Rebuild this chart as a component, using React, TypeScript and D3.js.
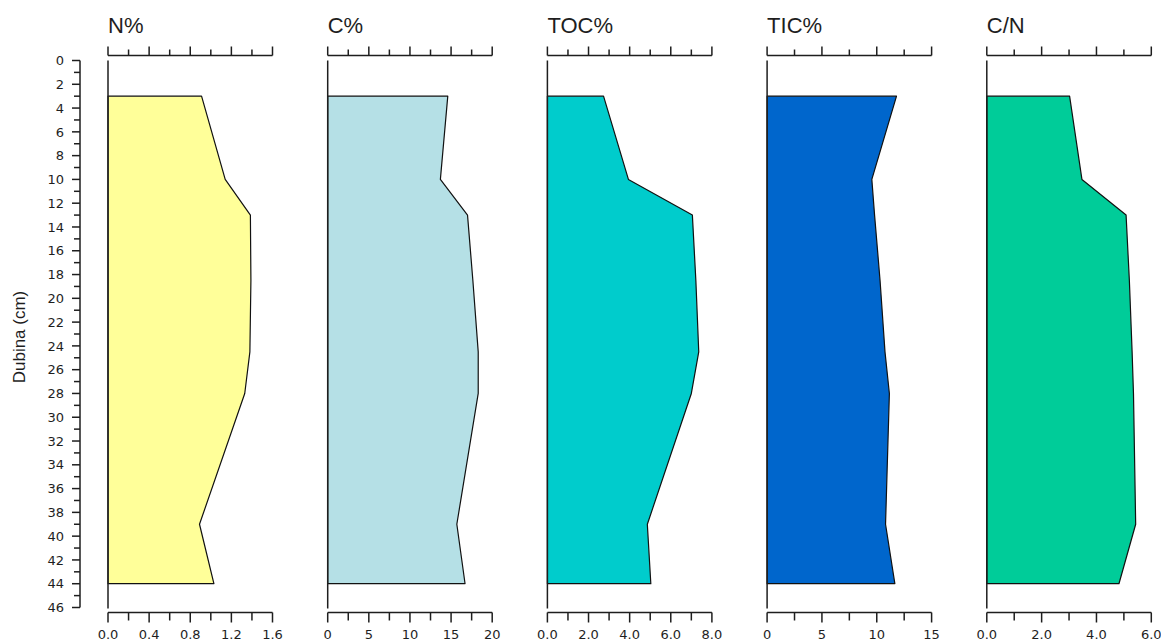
import React from "react";
import * as d3 from "d3";

const depths = [3, 10, 13, 18.5, 24.5, 28, 39, 44];
const nPct = [0.91, 1.14, 1.385, 1.39, 1.38, 1.33, 0.89, 1.03];
const cPct = [14.6, 13.7, 17.0, 17.65, 18.3, 18.3, 15.7, 16.7];
const tocPct = [2.73, 3.94, 7.05, 7.22, 7.36, 7.0, 4.86, 5.03];
const ticPct = [11.8, 9.55, 9.8, 10.3, 10.75, 11.15, 10.8, 11.65];
const cnRatio = [3.02, 3.47, 5.08, 5.2, 5.3, 5.35, 5.43, 4.82];

const titles = ["N%", "C%", "TOC%", "TIC%", "C/N"];
const maxima = [1.6, 20, 8, 15, 6];
const majorSteps = [0.4, 5, 2, 5, 2];
const tickFormats = [".1f", "d", ".1f", "d", ".1f"];
const fills = ["#FFFF99", "#B5E0E6", "#00CCCC", "#0066CC", "#00CC99"];
const seriesList = [nPct, cPct, tocPct, ticPct, cnRatio];

const depthMax = 46;
const yTicks = d3.range(0, depthMax + 1, 1);

const W = 1161;
const H = 642;
const panelX0 = 108;
const panelStep = 219.7;
const panelW = 164.5;
const yTop = 60.5;
const yBot = 607.5;
const topAxisY = 55.5;
const botAxisY = 612.5;
const yAxisX = 80;

const tickFont = "'DejaVu Sans', Verdana, sans-serif";
const titleFont = "'Liberation Sans', Arial, sans-serif";
const ink = "#1e1e1e";

export default function App() {
  const y = d3.scaleLinear().domain([0, depthMax]).range([yTop, yBot]);

  return (
    <svg
      width={W}
      height={H}
      style={{ position: "absolute", left: 0, top: 0, background: "#fff" }}
    >
      {/* Y axis */}
      <line x1={yAxisX} x2={yAxisX} y1={y(0)} y2={y(depthMax)} stroke={ink} strokeWidth={1.5} />
      {yTicks.map((t) => {
        const major = t % 2 === 0;
        return (
          <g key={"yt" + t}>
            <line
              x1={yAxisX - (major ? 8 : 6)}
              x2={yAxisX}
              y1={y(t)}
              y2={y(t)}
              stroke={ink}
              strokeWidth={1.5}
            />
            {major && (
              <text
                x={64}
                y={y(t)}
                dy="0.36em"
                textAnchor="end"
                fontFamily={tickFont}
                fontSize={13}
                fill={ink}
              >
                {t}
              </text>
            )}
          </g>
        );
      })}
      <text
        transform={`translate(25, ${(y(0) + y(depthMax)) / 2 + 3}) rotate(-90)`}
        textAnchor="middle"
        fontFamily={titleFont}
        fontSize={17}
        fill={ink}
      >
        Dubina (cm)
      </text>

      {titles.map((title, i) => {
        const x0 = panelX0 + i * panelStep;
        const x = d3.scaleLinear().domain([0, maxima[i]]).range([x0, x0 + panelW]);
        const minorStep = majorSteps[i] / 2;
        const ticks = d3.range(0, maxima[i] + minorStep / 2, minorStep);
        const vals = seriesList[i];
        const area = d3
          .area<number>()
          .x0(() => x(0))
          .x1((_, k) => x(vals[k]))
          .y((_, k) => y(depths[k]));
        const fmt = d3.format(tickFormats[i]);
        return (
          <g key={title}>
            <text
              x={x0}
              y={33}
              fontFamily={titleFont}
              fontSize={22}
              fill={ink}
            >
              {title}
            </text>
            <path
              d={area(depths) || ""}
              fill={fills[i]}
              stroke="#111"
              strokeWidth={1.2}
              strokeLinejoin="round"
            />
            {/* vertical panel axis */}
            <line x1={x0} x2={x0} y1={y(0)} y2={y(depthMax) + 1} stroke={ink} strokeWidth={1.5} />
            {/* top axis */}
            <line x1={x0} x2={x0 + panelW} y1={topAxisY} y2={topAxisY} stroke={ink} strokeWidth={1.5} />
            {/* bottom axis */}
            <line x1={x0} x2={x0 + panelW} y1={botAxisY} y2={botAxisY} stroke={ink} strokeWidth={1.5} />
            {ticks.map((t, k) => {
              const major = k % 2 === 0;
              const tx = x(t);
              return (
                <g key={title + "t" + k}>
                  <line
                    x1={tx}
                    x2={tx}
                    y1={topAxisY}
                    y2={topAxisY - (major ? 9 : 6)}
                    stroke={ink}
                    strokeWidth={1.5}
                  />
                  <line
                    x1={tx}
                    x2={tx}
                    y1={botAxisY}
                    y2={botAxisY + (major ? 10 : 8)}
                    stroke={ink}
                    strokeWidth={1.5}
                  />
                  {major && (
                    <text
                      x={tx}
                      y={639}
                      textAnchor="middle"
                      fontFamily={tickFont}
                      fontSize={13}
                      fill={ink}
                    >
                      {fmt(t)}
                    </text>
                  )}
                </g>
              );
            })}
          </g>
        );
      })}
    </svg>
  );
}
